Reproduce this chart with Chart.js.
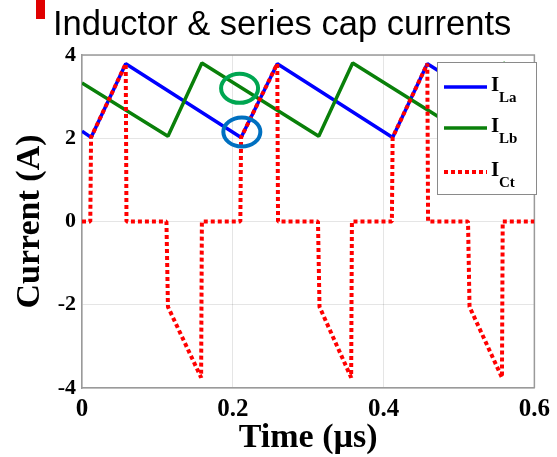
<!DOCTYPE html>
<html>
<head>
<meta charset="utf-8">
<script src="https://cdn.jsdelivr.net/npm/chart.js@4"></script>
<style>
  html, body { margin: 0; padding: 0; background: #fff; }
  #wrap { position: relative; width: 557px; height: 457px; }
</style>
</head>
<body>
<div id="wrap"><canvas id="chart" width="557" height="457"></canvas></div>
<script>
// time axis in microseconds, current in amps
const timeTicks = [0, 0.2, 0.4, 0.6];
const currentTicks = [-4, -2, 0, 2, 4];

const tLa = [0, 0.012, 0.058, 0.211, 0.259, 0.412, 0.458, 0.6];
const iLa = [2.17, 2.02, 3.79, 2.02, 3.79, 2.02, 3.79, 2.17];

const tLb = [0, 0.114, 0.159, 0.314, 0.359, 0.514, 0.559, 0.6];
const iLb = [3.33, 2.05, 3.81, 2.05, 3.81, 2.05, 3.81, 3.33];

const tCt = [0, 0.011, 0.012, 0.058, 0.059, 0.112, 0.114, 0.158, 0.159,
             0.210, 0.211, 0.259, 0.260, 0.313, 0.315, 0.357, 0.358,
             0.411, 0.412, 0.458, 0.459, 0.512, 0.514, 0.557, 0.558, 0.6];
const iCt = [0, 0, 2.02, 3.79, 0, 0, -2.05, -3.75, 0,
             0, 2.02, 3.79, 0, 0, -2.05, -3.75, 0,
             0, 2.02, 3.79, 0, 0, -2.05, -3.75, 0, 0];

const seriesNames = ['La', 'Lb', 'Ct'];

// highlight rings (time, current) around the switching instant
const ringTimes = [0.209, 0.212];
const ringCurrents = [3.2, 2.15];
const ringColors = ['#00a651', '#0070c0'];

function pts(ts, vs) {
    return ts.map((t, i) => ({x: t, y: vs[i]}));
}

const serif = "'Liberation Serif', 'Times New Roman', serif";

// heading with the red marker above the plot
const headingPlugin = {
    id: 'heading',
    afterDraw(chart) {
        const ctx = chart.ctx;
        ctx.save();
        ctx.fillStyle = '#e00000';
        ctx.fillRect(36, 0, 9, 19);
        ctx.fillStyle = '#000';
        ctx.font = "34.5px 'Liberation Sans', Arial, sans-serif";
        ctx.textBaseline = 'alphabetic';
        ctx.textAlign = 'left';
        ctx.fillText('Inductor & series cap currents', 53, 35);
        ctx.restore();
    }
};

// top and right edges of the box around the plot
const framePlugin = {
    id: 'frame',
    beforeDatasetsDraw(chart) {
        const {ctx, chartArea: a} = chart;
        ctx.save();
        ctx.strokeStyle = '#9a9a9a';
        ctx.lineWidth = 1.5;
        ctx.beginPath();
        ctx.moveTo(a.left, a.top);
        ctx.lineTo(a.right, a.top);
        ctx.lineTo(a.right, a.bottom);
        ctx.stroke();
        ctx.restore();
    }
};

// elliptical rings marking the points of interest
const ringPlugin = {
    id: 'rings',
    afterDatasetsDraw(chart) {
        const {ctx, scales} = chart;
        ctx.save();
        ctx.lineWidth = 4;
        ringTimes.forEach((t, i) => {
            const cx = scales.x.getPixelForValue(t);
            const cy = scales.y.getPixelForValue(ringCurrents[i]);
            ctx.strokeStyle = ringColors[i];
            ctx.beginPath();
            ctx.ellipse(cx, cy, 18.5, 14.5, 0, 0, Math.PI * 2);
            ctx.stroke();
        });
        ctx.restore();
    }
};

// legend with subscripted labels
const subLegendPlugin = {
    id: 'subLegend',
    afterDatasetsDraw(chart) {
        const ctx = chart.ctx;
        const box = {x: 437, y: 62, w: 99, h: 132};
        ctx.save();
        ctx.fillStyle = '#fff';
        ctx.fillRect(box.x, box.y, box.w, box.h);
        ctx.strokeStyle = '#8a8a8a';
        ctx.lineWidth = 1;
        ctx.strokeRect(box.x + 0.5, box.y + 0.5, box.w, box.h);
        const rows = [87, 128, 172];
        chart.data.datasets.forEach((ds, i) => {
            const y = rows[i];
            ctx.strokeStyle = ds.borderColor;
            ctx.lineWidth = ds.borderWidth;
            ctx.setLineDash(ds.borderDash || []);
            ctx.beginPath();
            ctx.moveTo(444, y);
            ctx.lineTo(487, y);
            ctx.stroke();
            ctx.setLineDash([]);
            ctx.fillStyle = '#000';
            ctx.textAlign = 'left';
            ctx.textBaseline = 'alphabetic';
            ctx.font = 'bold 21px ' + serif;
            ctx.fillText('I', 491, y + 4);
            ctx.font = 'bold 15px ' + serif;
            ctx.fillText(seriesNames[i], 499, y + 15);
        });
        ctx.restore();
    }
};

new Chart(document.getElementById('chart'), {
    type: 'line',
    data: {
        datasets: [{
            label: 'I_La',
            data: pts(tLa, iLa),
            borderColor: '#0000ff',
            borderWidth: 3.5,
            order: 3
        }, {
            label: 'I_Lb',
            data: pts(tLb, iLb),
            borderColor: '#0a800a',
            borderWidth: 3.5,
            order: 2
        }, {
            label: 'I_Ct',
            data: pts(tCt, iCt),
            borderColor: '#ff0000',
            borderWidth: 4,
            borderDash: [4, 3],
            order: 1
        }]
    },
    options: {
        responsive: false,
        animation: false,
        elements: {
            point: { radius: 0 },
            line: { tension: 0, borderCapStyle: 'butt', borderJoinStyle: 'bevel' }
        },
        layout: {
            padding: { top: 55, right: 18, left: 0, bottom: 0 }
        },
        plugins: {
            legend: { display: false },
            tooltip: { enabled: false }
        },
        scales: {
            x: {
                type: 'linear',
                min: timeTicks[0],
                max: timeTicks[timeTicks.length - 1],
                afterBuildTicks: function(scale) {
                    scale.ticks = timeTicks.map(v => ({value: v}));
                },
                afterFit: function(scale) {
                    scale.height = 69;
                },
                ticks: {
                    color: '#000',
                    padding: 7,
                    maxRotation: 0,
                    font: { family: serif, size: 25, weight: 'bold' }
                },
                grid: {
                    color: 'rgba(0, 0, 0, 0.1)',
                    drawTicks: false
                },
                border: { color: '#9a9a9a', width: 1.5 },
                title: {
                    display: true,
                    text: 'Time (\u00b5s)',
                    color: '#000',
                    padding: { top: 0, bottom: 2 },
                    font: { family: serif, size: 34, weight: 'bold', lineHeight: 1 }
                }
            },
            y: {
                min: currentTicks[0],
                max: currentTicks[currentTicks.length - 1],
                afterBuildTicks: function(scale) {
                    scale.ticks = currentTicks.map(v => ({value: v}));
                },
                afterFit: function(scale) {
                    scale.width = 82;
                },
                ticks: {
                    color: '#000',
                    padding: 6,
                    font: { family: serif, size: 22, weight: 'bold' }
                },
                grid: {
                    color: 'rgba(0, 0, 0, 0.1)',
                    drawTicks: false
                },
                border: { color: '#9a9a9a', width: 1.5 },
                title: {
                    display: true,
                    text: 'Current (A)',
                    color: '#000',
                    padding: { top: 13, bottom: 0 },
                    font: { family: serif, size: 34, weight: 'bold', lineHeight: 1 }
                }
            }
        }
    },
    plugins: [framePlugin, ringPlugin, subLegendPlugin, headingPlugin]
});
</script>
</body>
</html>
